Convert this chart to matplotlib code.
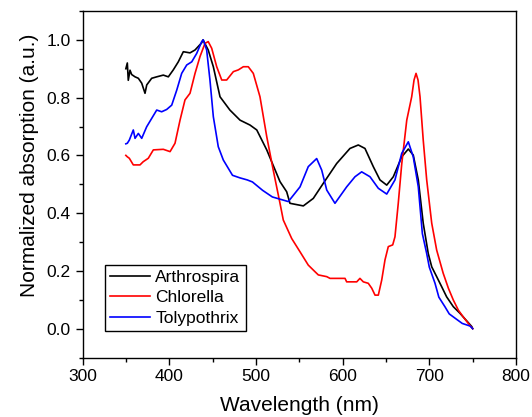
import matplotlib
matplotlib.use('Agg')
import matplotlib.pyplot as plt
from matplotlib.ticker import MultipleLocator

plt.rcParams['font.family'] = ['Liberation Sans', 'DejaVu Sans']

# Arthrospira
arth_nm = [350, 351.7, 352.8, 354.8, 356.7, 360.6, 364.4, 368.3, 372.1, 374.1, 379.8,
           385.6, 393.2, 399, 404.7, 410.5, 416.3, 424, 429.8, 437.5, 439, 445, 450.9,
           458.6, 470, 481.7, 493.2, 501, 512.5, 520, 527.8, 535.5, 539.3, 554.7, 566.2,
           577.7, 593.2, 608.5, 618.1, 625.8, 635.4, 643.1, 650.9, 658.5, 668.2, 675.8,
           681.5, 687.3, 693, 698.8, 702.8, 708.5, 714.3, 720, 727.7, 735.4, 743.1, 749, 750]
arth_val = [0.90, 0.92, 0.86, 0.895, 0.88, 0.872, 0.867, 0.85, 0.815, 0.844, 0.867,
            0.872, 0.878, 0.872, 0.896, 0.924, 0.959, 0.955, 0.965, 0.99, 1.0, 0.965, 0.907,
            0.803, 0.757, 0.722, 0.705, 0.688, 0.619, 0.565, 0.509, 0.474, 0.434, 0.425, 0.451,
            0.503, 0.572, 0.624, 0.636, 0.624, 0.561, 0.515, 0.497, 0.526, 0.595, 0.622,
            0.601, 0.515, 0.365, 0.26, 0.214, 0.18, 0.145, 0.11, 0.076, 0.053, 0.027, 0.007, 0.0]

# Chlorella
chl_nm = [350, 351.7, 354, 358.6, 366.3, 370, 375.9, 381.7, 393.2, 401, 406.7, 412.5,
          418.2, 424, 429.8, 435.5, 441.3, 445, 449, 454.8, 460.6, 466.3, 474, 479.7,
          485.5, 491.2, 497, 504.7, 512.5, 520, 527.8, 531.6, 541.3, 550.9, 560.4, 568.2,
          572, 581.7, 585.5, 602.8, 604.7, 616.3, 620, 623.9, 629.6, 633.6, 637.4, 641.2,
          645.1, 648.9, 652.7, 657.8, 660.4, 664.2, 668.2, 674, 679.7, 682.4, 684.7, 687,
          689.3, 693, 697, 702.8, 708.5, 716, 722, 727.7, 733.5, 739, 745, 750]
chl_val = [0.60, 0.595, 0.59, 0.567, 0.567, 0.578, 0.59, 0.619, 0.621, 0.613, 0.642, 0.722,
           0.792, 0.815, 0.884, 0.942, 0.988, 0.994, 0.971, 0.907, 0.861, 0.861, 0.89, 0.896,
           0.907, 0.907, 0.884, 0.803, 0.665, 0.549, 0.434, 0.376, 0.312, 0.266, 0.22, 0.197,
           0.186, 0.18, 0.174, 0.174, 0.162, 0.162, 0.174, 0.162, 0.157, 0.14, 0.116, 0.116,
           0.168, 0.238, 0.284, 0.29, 0.318, 0.434, 0.57, 0.722, 0.803, 0.861, 0.884, 0.861,
           0.803, 0.653, 0.515, 0.365, 0.272, 0.192, 0.14, 0.099, 0.064, 0.041, 0.018, 0.0]

# Tolypothrix
toly_nm = [350, 351.7, 354, 358.6, 360.6, 364.4, 368.3, 374, 379.8, 385.6, 391.3, 397.1,
           402.9, 408.7, 414.4, 420.2, 426, 431.7, 437.5, 439.3, 443.2, 447, 450.9, 456.6,
           462.4, 473, 481.7, 490, 496, 507.7, 519, 537.4, 550.9, 560.4, 570.1, 575.9,
           581.7, 591.2, 604.7, 614.3, 622, 631.6, 641.2, 650.9, 660.4, 668.2, 675.8,
           681.5, 687.3, 692, 697, 700, 706.6, 711, 718, 723, 731.6, 738, 747, 750]
toly_val = [0.64, 0.642, 0.653, 0.688, 0.659, 0.676, 0.659, 0.699, 0.728, 0.757, 0.751, 0.759,
            0.774, 0.826, 0.884, 0.913, 0.924, 0.953, 0.994, 1.0, 0.965, 0.861, 0.734, 0.63,
            0.584, 0.531, 0.522, 0.515, 0.508, 0.479, 0.456, 0.44, 0.491, 0.561, 0.589, 0.549,
            0.48, 0.434, 0.491, 0.526, 0.543, 0.526, 0.486, 0.466, 0.515, 0.607, 0.647,
            0.595, 0.491, 0.329, 0.26, 0.213, 0.157, 0.109, 0.076, 0.051, 0.032, 0.018, 0.009, 0.0]

fig = plt.figure(figsize=(5.32, 4.17), dpi=100)
ax = fig.add_axes([82.5 / 532, (417 - 357.5) / 417, 433.5 / 532, 346.5 / 417])

ax.plot(arth_nm, arth_val, color='black', lw=1.2, label='Arthrospira')
ax.plot(chl_nm, chl_val, color='red', lw=1.2, label='Chlorella')
ax.plot(toly_nm, toly_val, color='blue', lw=1.2, label='Tolypothrix')

ax.set_xlim(300, 800)
ax.set_ylim(-0.1, 1.1)
ax.xaxis.set_major_locator(MultipleLocator(100))
ax.xaxis.set_minor_locator(MultipleLocator(50))
ax.yaxis.set_minor_locator(MultipleLocator(0.1))
ax.set_yticks([0.0, 0.2, 0.4, 0.6, 0.8, 1.0])
ax.set_yticklabels(['0.0', '0.2', '0.4', '0.6', '0.8', '1.0'])
ax.tick_params(which='major', direction='out', length=5, width=1, labelsize=12.5)
ax.tick_params(which='minor', direction='out', length=3, width=1)
for s in ax.spines.values():
    s.set_linewidth(1)

ax.set_xlabel('Wavelength (nm)', fontsize=15)
ax.set_ylabel('Normalized absorption (a.u.)', fontsize=15)
ax.xaxis.set_label_coords(0.5, -0.112)
ax.yaxis.set_label_coords(-0.1, 0.554)

leg = ax.legend(loc='lower left', bbox_to_anchor=(0.052, 0.0765), borderaxespad=0,
                fontsize=12.5, handlelength=2.3, labelspacing=0.3, handletextpad=0.3,
                borderpad=0.3, fancybox=False, framealpha=1)
leg.get_frame().set_edgecolor('black')
leg.get_frame().set_linewidth(1)

fig.savefig('out.png', dpi=100)
